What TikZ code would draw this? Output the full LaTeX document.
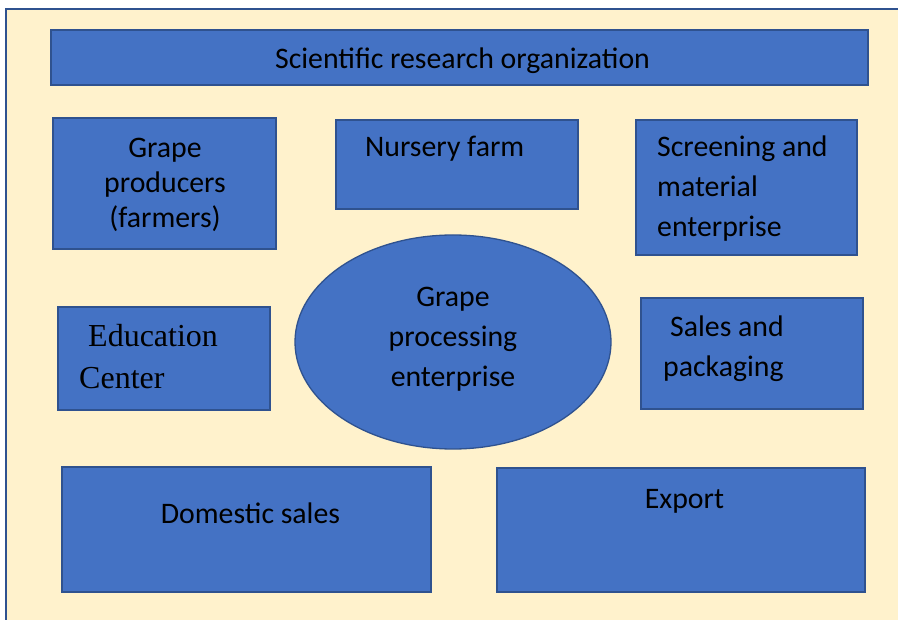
\documentclass[tikz,border=0pt]{standalone}
\usepackage{fontspec}
\setmainfont{Carlito}
\newfontfamily\timesfont{Liberation Serif}
\usetikzlibrary{shapes.geometric}
\definecolor{boxblue}{HTML}{4472C4}
\definecolor{edgeblue}{HTML}{2F528F}
\definecolor{cream}{HTML}{FFF2CC}

\begin{document}
\begin{tikzpicture}[x=1pt,y=-1pt,
  box/.style={rectangle,draw=edgeblue,fill=boxblue,line width=1.3pt,inner sep=0pt},
  lbl/.style={inner sep=0pt,font=\fontsize{29.8}{40}\selectfont}]
\useasboundingbox (0,0) rectangle (898,620);
\fill[white] (0,0) rectangle (898,620);
\fill[cream] (6,9) rectangle (898,620);
\draw[edgeblue,line width=2pt] (6,620) -- (6,9) -- (898,9);

% boxes
\node (sci)[box,minimum width=817,minimum height=55] at (459.5,57.5) {};
\node (grow)[box,minimum width=223,minimum height=131] at (164.5,183.5) {};
\node (nurs)[box,minimum width=242,minimum height=89] at (457,164.5) {};
\node (scr)[box,minimum width=221,minimum height=135] at (746.5,187.5) {};
\node (edu)[box,minimum width=212,minimum height=103] at (164,358.5) {};
\node (proc)[box,ellipse,minimum width=316,minimum height=214] at (453,342) {};
\node (sale)[box,minimum width=222,minimum height=111] at (752,353.5) {};
\node (dom)[box,minimum width=369,minimum height=125] at (246.5,529.5) {};
\node (exp)[box,minimum width=368,minimum height=124] at (681,530) {};

% texts
\node (sci-t)[lbl,anchor=base] at (462.5,69) {Scientific research organization};
\node (grow-t)[lbl,anchor=base,text width=210,align=center,font=\fontsize{29.8}{35}\selectfont] at (165,158) {Grape\\producers\\(farmers)};
\node (nurs-t)[lbl,anchor=base west] at (365,157) {Nursery farm};
\node (scr-t)[lbl,anchor=base west,align=left] at (657,237) {Screening and\\material\\enterprise};
\node (edu-t)[lbl,anchor=base west,text width=190,align=left,font=\timesfont\fontsize{32}{42}\selectfont] at (79,347) {\hspace*{9pt}Education\\Center};
\node (proc-t)[lbl,anchor=base,text width=210,align=center] at (453,307) {Grape\\processing\\enterprise};
\node (sale-t)[lbl,anchor=base west,align=left] at (663,377) {\hspace*{7pt}Sales and\\packaging};
\node (dom-t)[lbl,anchor=base] at (250.5,523) {Domestic sales};
\node (exp-t)[lbl,anchor=base] at (684.5,508) {Export};
\end{tikzpicture}
\end{document}
